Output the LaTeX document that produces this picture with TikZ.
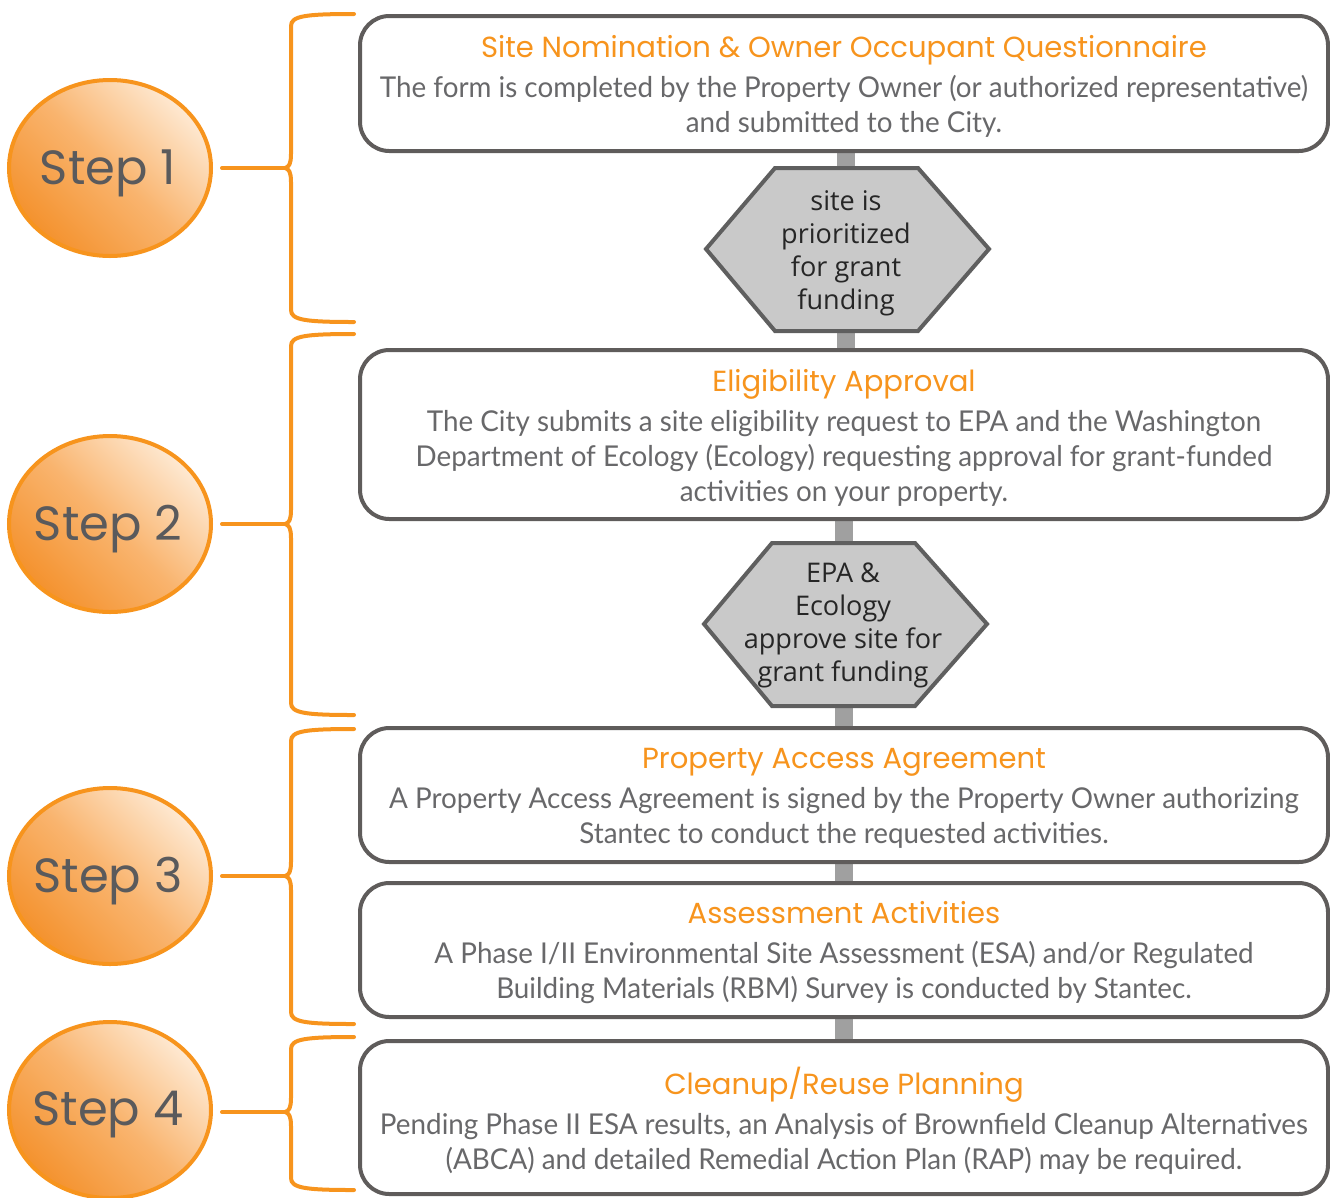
\documentclass[tikz,border=0pt]{standalone}
\usepackage{fontspec}
\setmainfont{Lato}
\newfontfamily\stepfont{Poppins}
\newfontfamily\titlefont{Poppins}
\newfontfamily\bodyfont[FakeStretch=0.97]{Lato}
\newfontfamily\hexfont{Open Sans}
\usetikzlibrary{calc,backgrounds}
\definecolor{orng}{HTML}{F7941D}
\definecolor{boxgray}{HTML}{5F5C5B}
\definecolor{bodygray}{HTML}{68686A}
\definecolor{hexfill}{HTML}{C9C9C9}
\definecolor{hexline}{HTML}{5F5F5F}
\definecolor{conngray}{HTML}{A0A0A0}
\definecolor{stepgray}{HTML}{5A5A5C}
\definecolor{ordark}{HTML}{F4922E}
\definecolor{ormid}{HTML}{F9B46E}
\definecolor{orlight}{HTML}{FEE9D2}
\newcommand\ttl[1]{{\titlefont\fontsize{21.8}{26.25}\selectfont\color{orng}#1}\\[3.75pt]}
\begin{document}
\begin{tikzpicture}[x=0.75pt,y=-0.75pt,
  box/.style={draw=boxgray,line width=3pt,rounded corners=22pt,fill=white,
    minimum width=726pt,inner sep=0pt},
  boxtext/.style={align=center,inner sep=0pt,text=bodygray,
    font=\bodyfont\fontsize{21.5}{26.25}\selectfont},
  hexs/.style={draw=hexline,line width=3pt,fill=hexfill,line join=miter},
  hextext/.style={align=center,inner sep=0pt,text=black!85,
    font=\hexfont\fontsize{20.3}{24.75}\selectfont},
  conn/.style={draw=conngray,line width=13.5pt},
  stepshade/.style={draw=orng,line width=3pt,top color=orlight,bottom color=ordark,
    middle color=ormid,shading angle=-45},
  steptext/.style={inner sep=0pt,text=stepgray,
    font=\stepfont\fontsize{36}{40}\selectfont},
  bracestyle/.style={draw=orng,line width=3pt,line cap=round,line join=round}]
\useasboundingbox (0,0) rectangle (1330,1197);

% box centres
\coordinate (c1) at (844,83.5);
\coordinate (c2) at (844,434.5);
\coordinate (c3) at (844,795);
\coordinate (c4) at (844,950);
\coordinate (c5) at (844,1117.5);

% boxes
\node[box,minimum height=101.25pt] (b1) at (c1) {};
\node[box,minimum height=126.75pt] (b2) at (c2) {};
\node[box,minimum height=100.5pt] (b3) at (c3) {};
\node[box,minimum height=100.5pt] (b4) at (c4) {};
\node[box,minimum height=114.75pt] (b5) at (c5) {};

% connectors between boxes (behind the boxes)
\begin{scope}[on background layer]
\draw[conn] ($(b1.south)+(2,0)$) -- ($(b2.north)+(2,0)$);
\draw[conn] (b2.south) -- (b3.north);
\draw[conn] (b3.south) -- (b4.north);
\draw[conn] (b4.south) -- (b5.north);
\end{scope}

\node[boxtext] (bt1) at ($(c1)+(0,3)$) {\ttl{Site Nomination \& Owner Occupant Questionnaire}The form is completed by the Property Owner (or authorized representative)\\and submitted to the City.};
\node[boxtext] (bt2) at ($(c2)+(0,3)$) {\ttl{Eligibility Approval}The City submits a site eligibility request to EPA and the Washington\\Department of Ecology (Ecology) requesting approval for grant-funded\\activities on your property.};
\node[boxtext] (bt3) at ($(c3)+(0,3)$) {\ttl{Property Access Agreement}A Property Access Agreement is signed by the Property Owner authorizing\\Stantec to conduct the requested activities.};
\node[boxtext] (bt4) at ($(c4)+(0,3)$) {\ttl{Assessment Activities}A Phase I/II Environmental Site Assessment (ESA) and/or Regulated\\Building Materials (RBM) Survey is conducted by Stantec.};
\node[boxtext] (bt5) at ($(c5)+(0,3)$) {\ttl{Cleanup/Reuse Planning}Pending Phase II ESA results, an Analysis of Brownfield Cleanup Alternatives\\(ABCA) and detailed Remedial Action Plan (RAP) may be required.};

% hexagons
\coordinate (h1) at (847,249);
\draw[hexs] ($(h1)+(-141,0)$) -- ($(h1)+(-72,-81)$) -- ($(h1)+(71,-81)$) -- ($(h1)+(142,0)$) -- ($(h1)+(71,82)$) -- ($(h1)+(-72,82)$) -- cycle;
\node[hextext] (t1) at ($(h1)+(-1,4)$) {site is\\prioritized\\for grant\\funding};
\coordinate (h2) at (845,624);
\draw[hexs] ($(h2)+(-141,0)$) -- ($(h2)+(-73,-81)$) -- ($(h2)+(70,-81)$) -- ($(h2)+(142,0)$) -- ($(h2)+(70,82)$) -- ($(h2)+(-73,82)$) -- cycle;
\node[hextext] (t2) at ($(h2)+(-2,1)$) {EPA \&\\Ecology\\approve site for\\grant funding};

% step circles
\foreach \n/\y in {1/168, 2/524, 3/876, 4/1110}{
  \shade[stepshade] (110,\y) ellipse [x radius=101, y radius=88];
  \node[steptext] (s\n) at (108,\y+5) {Step \n};
}

% braces
\foreach \yt/\ym/\yb/\s in {14/168/322/1, 334/524/715/2, 729/876/1024/3, 1037/1112/1190/4}{
  \coordinate (tip\s) at (285,\ym);
  \coordinate (from\s) at (222,\ym);
  \draw[bracestyle] (354,\yt) .. controls (305,\yt) and (291,\yt+2) .. (291,\yt+12)
     -- (291,\ym-14) .. controls (291,\ym-4) and (289,\ym-1) .. (tip\s)
     .. controls (289,\ym+1) and (291,\ym+4) .. (291,\ym+14)
     -- (291,\yb-12) .. controls (291,\yb-2) and (305,\yb) .. (354,\yb);
  \draw[bracestyle] (from\s) -- (tip\s);
}
\end{tikzpicture}
\end{document}
